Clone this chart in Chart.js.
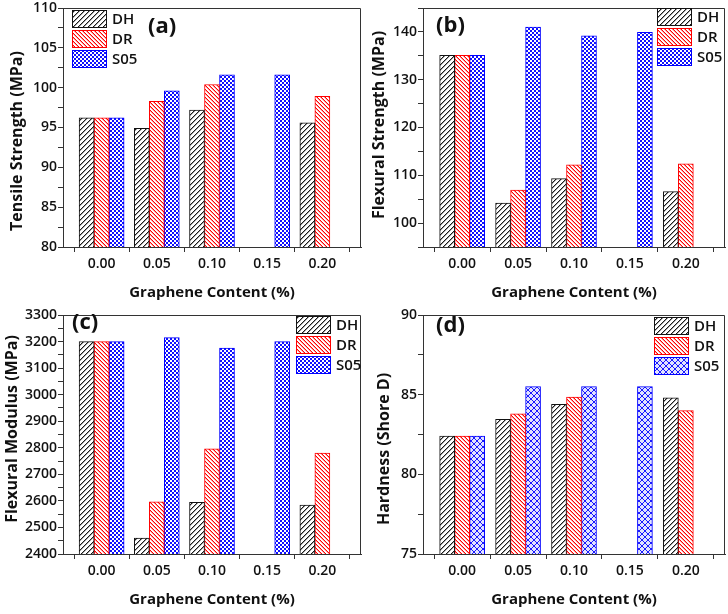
<!DOCTYPE html>
<html>
<head>
<meta charset="utf-8">
<script src="https://cdn.jsdelivr.net/npm/chart.js@4.4.1/dist/chart.umd.min.js"></script>
<style>
  html, body { margin: 0; padding: 0; background: #fff; }
  #wrap { position: relative; width: 728px; height: 614px; }
  #wrap canvas { position: absolute; }
</style>
</head>
<body>
<div id="wrap">
  <canvas id="pa" width="364" height="307" style="left:0;top:0"></canvas>
  <canvas id="pb" width="364" height="307" style="left:364px;top:0"></canvas>
  <canvas id="pc" width="364" height="307" style="left:0;top:307px"></canvas>
  <canvas id="pd" width="364" height="307" style="left:364px;top:307px"></canvas>
</div>
<script>
// graphene content (%) categories
const contents = [0.00, 0.05, 0.10, 0.15, 0.20];
const seriesNames = ["DH", "DR", "S05"];
const xMinorTicks = [-0.025, 0.025, 0.075, 0.125, 0.175, 0.225];

// (a) tensile strength, MPa
const tensileDH = [96.2, 94.9, 97.2, null, 95.6];
const tensileDR = [96.2, 98.3, 100.4, null, 98.9];
const tensileS05 = [96.2, 99.6, 101.6, 101.6, null];
const tensileTicks = [80, 85, 90, 95, 100, 105, 110];

// (b) flexural strength, MPa
const flexStrDH = [135.1, 104.2, 109.3, null, 106.6];
const flexStrDR = [135.1, 106.9, 112.2, null, 112.4];
const flexStrS05 = [135.1, 141.0, 139.2, 139.9, null];
const flexStrTicks = [100, 110, 120, 130, 140];

// (c) flexural modulus, MPa
const flexModDH = [3200, 2460, 2595, null, 2584];
const flexModDR = [3200, 2596, 2796, null, 2780];
const flexModS05 = [3200, 3215, 3175, 3200, null];
const flexModTicks = [2400, 2500, 2600, 2700, 2800, 2900, 3000, 3100, 3200, 3300];

// (d) hardness, Shore D
const hardDH = [82.4, 83.45, 84.4, null, 84.8];
const hardDR = [82.4, 83.8, 84.85, null, 84.0];
const hardS05 = [82.4, 85.5, 85.5, 85.5, null];
const hardTicks = [75, 80, 85, 90];

Chart.defaults.font.family = '"Open Sans", sans-serif';
Chart.defaults.color = "#111";
Chart.defaults.animation = false;

function tile(size, draw) {
  const c = document.createElement("canvas");
  c.width = size; c.height = size;
  const g = c.getContext("2d");
  g.fillStyle = "#fff";
  g.fillRect(0, 0, size, size);
  draw(g, size);
  return c;
}

// pixel-exact diagonal hatching, with a softer neighbour pixel
function hatch(color, soft, gap, forward) {
  return tile(gap, (g, s) => {
    for (let i = 0; i < s; i++) {
      const y = forward ? s - 1 - i : i;
      g.fillStyle = soft;
      g.fillRect(i, (y + 1) % s, 1, 1);
      g.fillStyle = color;
      g.fillRect(i, y, 1, 1);
    }
  });
}

const dhTile = hatch("#1a1a1a", "#a0a0a0", 5, true);
const drTile = hatch("#ff0000", "#ff9a9a", 4, false);
const checkerTile = tile(4, (g) => {
  g.fillStyle = "#1010ff";
  g.fillRect(0, 0, 2, 2);
  g.fillRect(2, 2, 2, 2);
});
const crossTile = tile(6, (g, s) => {
  g.fillStyle = "#e2e4ff";
  g.fillRect(0, 0, s, s);
  g.fillStyle = "#1a1aff";
  for (let i = 0; i < s; i++) {
    g.fillRect(i, i, 1, 1);
    g.fillRect(i, s - 1 - i, 1, 1);
  }
});
const edges = ["#111", "#ff0000", "#0000ff"];

const isCenter = v => Math.abs(v * 20 - Math.round(v * 20)) < 1e-6;

// frame, panel tag, rotated y title and legend
const decor = {
  id: "decor",
  afterDraw(chart, args, o) {
    const { ctx, chartArea: a } = chart;
    ctx.save();
    ctx.strokeStyle = "#333";
    ctx.lineWidth = 1;
    ctx.beginPath();
    ctx.moveTo(a.left, Math.round(a.top) + 0.5);
    ctx.lineTo(Math.round(a.right) - 0.5, Math.round(a.top) + 0.5);
    ctx.lineTo(Math.round(a.right) - 0.5, a.bottom);
    ctx.stroke();

    ctx.fillStyle = "#111";
    ctx.font = 'bold 22px "Open Sans"';
    ctx.textBaseline = "middle";
    ctx.textAlign = "left";
    ctx.fillText(o.tag, o.tagX, o.tagY);

    ctx.save();
    ctx.translate(o.titleX, o.titleY);
    ctx.rotate(-Math.PI / 2);
    ctx.textAlign = "center";
    ctx.font = 'bold 16px "Open Sans"';
    ctx.fillText(o.yTitle, 0, 0);
    ctx.restore();

    chart.data.datasets.forEach((ds, i) => {
      const y = o.legY + i * 20;
      ctx.fillStyle = ds.backgroundColor;
      ctx.fillRect(o.legX, y, 35, 18);
      ctx.strokeStyle = ds.borderColor;
      ctx.strokeRect(o.legX + 0.5, y + 0.5, 34, 17);
      ctx.fillStyle = "#111";
      ctx.font = '600 15px "Open Sans"';
      ctx.textAlign = "left";
      ctx.fillText(ds.label, o.legX + 40, y + 10);
    });
    ctx.restore();
  }
};

function panel(id, p) {
  const canvas = document.getElementById(id);
  const ctx = canvas.getContext("2d");
  // anchor the hatching to the page so all four panels share one phase
  const shift = new DOMMatrix().translate(-canvas.offsetLeft, -canvas.offsetTop);
  const fills = [dhTile, drTile, p.s05Tile].map(t => {
    const pat = ctx.createPattern(t, "repeat");
    pat.setTransform(shift);
    return pat;
  });
  const datasets = p.series.map((vals, i) => ({
    label: seriesNames[i],
    data: contents.map((x, j) => ({ x, y: vals[j] })).filter(pt => pt.y !== null),
    backgroundColor: fills[i],
    borderColor: edges[i],
    borderWidth: 1,
    borderSkipped: false,
    barThickness: 15
  }));
  const yAll = [];
  for (let v = p.min; v <= p.max + 1e-9; v += p.minorStep) yAll.push(+v.toFixed(4));

  new Chart(canvas, {
    type: "bar",
    data: { datasets },
    plugins: [decor],
    options: {
      responsive: false,
      layout: { padding: { left: 0, top: 7, right: 3, bottom: 0 } },
      plugins: {
        legend: { display: false },
        tooltip: { enabled: false },
        decor: p.decor
      },
      scales: {
        x: {
          type: "linear",
          min: -0.035,
          max: 0.235,
          offset: false,
          afterBuildTicks: s => {
            s.ticks = contents.concat(xMinorTicks).sort((a, b) => a - b).map(value => ({ value }));
          },
          afterFit: s => { s.height = 60; },
          grid: {
            offset: false,
            drawOnChartArea: false,
            tickLength: 5,
            tickColor: c => (isCenter(c.tick.value) ? "rgba(0,0,0,0)" : "#333")
          },
          border: { color: "#333", width: 1 },
          ticks: {
            autoSkip: false,
            maxRotation: 0,
            padding: 5,
            font: { size: 14, weight: "600", lineHeight: 1 },
            callback: v => (isCenter(v) ? v.toFixed(2) : "")
          },
          title: {
            display: true,
            text: "Graphene Content (%)",
            font: { size: 15, weight: "bold" },
            padding: { top: 0, bottom: 5 }
          }
        },
        y: {
          min: p.min,
          max: p.max,
          afterBuildTicks: s => { s.ticks = yAll.map(value => ({ value })); },
          afterFit: s => { s.width = p.axisWidth; },
          grid: { drawOnChartArea: false, tickLength: 5, tickColor: "#333" },
          border: { color: "#333", width: 1 },
          ticks: {
            autoSkip: false,
            padding: 1,
            font: { size: 14, weight: "600", lineHeight: 1 },
            callback: v => (p.ticks.includes(v) ? String(v) : "")
          }
        }
      }
    }
  });
}

panel("pa", {
  series: [tensileDH, tensileDR, tensileS05],
  min: 80, max: 110, minorStep: 2.5, ticks: tensileTicks,
  axisWidth: 63, s05Tile: checkerTile,
  decor: { tag: "(a)", tagX: 148, tagY: 27, yTitle: "Tensile Strength (MPa)", titleX: 17, titleY: 141, legX: 72, legY: 10 }
});

panel("pb", {
  series: [flexStrDH, flexStrDR, flexStrS05],
  min: 95, max: 145, minorStep: 5, ticks: flexStrTicks,
  axisWidth: 59, s05Tile: checkerTile,
  decor: { tag: "(b)", tagX: 72, tagY: 26, yTitle: "Flexural Strength (MPa)", titleX: 15, titleY: 125, legX: 293, legY: 8 }
});

panel("pc", {
  series: [flexModDH, flexModDR, flexModS05],
  min: 2400, max: 3300, minorStep: 50, ticks: flexModTicks,
  axisWidth: 63, s05Tile: checkerTile,
  decor: { tag: "(c)", tagX: 72, tagY: 16, yTitle: "Flexural Modulus (MPa)", titleX: 12, titleY: 122, legX: 296, legY: 9 }
});

panel("pd", {
  series: [hardDH, hardDR, hardS05],
  min: 75, max: 90, minorStep: 2.5, ticks: hardTicks,
  axisWidth: 59, s05Tile: crossTile,
  decor: { tag: "(d)", tagX: 72, tagY: 19, yTitle: "Hardness (Shore D)", titleX: 20, titleY: 142, legX: 290, legY: 10 }
});
</script>
</body>
</html>
